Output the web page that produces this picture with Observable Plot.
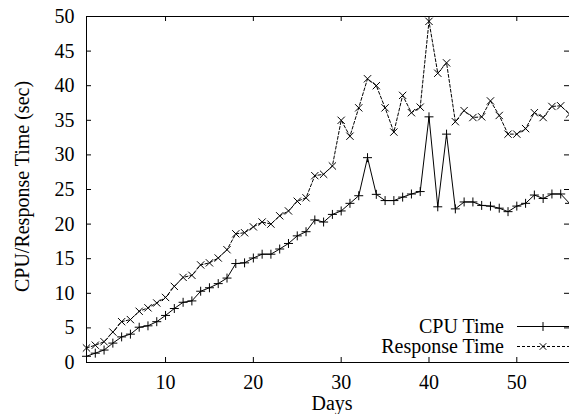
<!DOCTYPE html>
<html><head><meta charset="utf-8">
<script src="https://cdn.jsdelivr.net/npm/d3@7"></script>
<script src="https://cdn.jsdelivr.net/npm/@observablehq/plot@0.6"></script>
<style>
body{margin:0;background:#fff;}
#wrap{position:relative;width:569px;height:414px;font-family:"Liberation Serif","Times New Roman",serif;}
#legend{position:absolute;left:0;top:0;pointer-events:none;}
</style></head><body><div id="wrap"></div>
<script>
const days = [1,2,3,4,5,6,7,8,9,10,11,12,13,14,15,16,17,18,19,20,21,22,23,24,25,26,27,28,29,30,31,32,33,34,35,36,37,38,39,40,41,42,43,44,45,46,47,48,49,50,51,52,53,54,55,56];
const cpuTime = [0.9,1.35,1.8,2.8,3.7,4.1,5.1,5.3,5.9,6.8,
  7.8,8.7,8.9,10.3,10.8,11.4,12.2,14.3,14.4,15.1,
  15.65,15.65,16.4,17.2,18.3,18.9,20.6,20.3,21.4,21.9,
  23.0,24.1,29.6,24.3,23.4,23.4,23.9,24.35,24.7,35.5,
  22.5,33.0,22.2,23.2,23.2,22.7,22.6,22.3,21.8,22.6,
  23.0,24.2,23.7,24.35,24.35,23.0];
const responseTime = [2.1,2.5,3.0,4.4,5.9,6.2,7.4,7.9,8.6,9.4,
  11.0,12.3,12.6,14.1,14.4,15.1,16.3,18.6,18.75,19.6,
  20.3,20.0,21.2,21.9,23.3,23.8,27.0,27.2,28.4,35.0,
  32.7,36.8,41.0,40.0,36.8,33.3,38.6,36.1,36.9,49.3,
  41.8,43.3,34.8,36.4,35.4,35.5,37.8,35.7,33.0,33.0,
  33.8,36.1,35.4,37.0,37.1,35.9];
const xTicks = [10,20,30,40,50];
const yTicks = [0,5,10,15,20,25,30,35,40,45,50];
const seriesNames = ["CPU Time","Response Time"];
const xLabel = "Days";
const yLabel = "CPU/Response Time (sec)";

const W=569,H=414,mT=16,mB=52,mL=86,mR=0,tick=5,fs=20;
const frameH=H-mT-mB, frameW=W-mL-mR;
const font='"Liberation Serif","Times New Roman",serif';
const cpu = days.map((d,i)=>({day:d,value:cpuTime[i]}));
const resp = days.map((d,i)=>({day:d,value:responseTime[i]}));

const chart = Plot.plot({
  width:W,height:H,marginTop:mT,marginBottom:mB,marginLeft:mL,marginRight:mR,
  style:{fontFamily:font,fontSize:fs+"px",color:"#000",background:"#fff",overflow:"visible"},
  x:{domain:[1,56]}, y:{domain:[0,50]},
  marks:[
    Plot.frame({stroke:"#000",strokeWidth:1}),
    Plot.tickX(xTicks,{x:d=>d,insetTop:frameH-tick,stroke:"#000"}),
    Plot.tickX(xTicks,{x:d=>d,insetBottom:frameH-tick,stroke:"#000"}),
    Plot.tickY(yTicks,{y:d=>d,insetRight:frameW-tick,stroke:"#000"}),
    Plot.tickY(yTicks,{y:d=>d,insetLeft:frameW-tick,stroke:"#000"}),
    Plot.axisX({ticks:xTicks,tickSize:0,tickPadding:12,label:null,fontSize:fs}),
    Plot.axisY({ticks:yTicks,tickSize:0,tickPadding:12,label:null,fontSize:fs}),
    Plot.text([xLabel],{text:d=>d,frameAnchor:"bottom",lineAnchor:"middle",textAnchor:"middle",dx:4,dy:41,fontSize:fs}),
    Plot.text([yLabel],{text:d=>d,frameAnchor:"left",textAnchor:"middle",lineAnchor:"middle",dx:-64,dy:-3,rotate:-90,fontSize:fs}),
    Plot.line(resp,{x:"day",y:"value",stroke:"#000",strokeWidth:1,strokeDasharray:"3,2"}),
    Plot.dot(resp,{x:"day",y:"value",symbol:"times",r:3.4,stroke:"#000",strokeWidth:1}),
    Plot.line(cpu,{x:"day",y:"value",stroke:"#000",strokeWidth:1}),
    Plot.dot(cpu,{x:"day",y:"value",symbol:"plus",r:3.0,stroke:"#000",strokeWidth:1})
  ]
});
const wrap=document.getElementById("wrap");
wrap.appendChild(chart);

// legend overlay
const lg=d3.select(wrap).append("svg").attr("id","legend").attr("width",W).attr("height",H)
  .style("font-family",font).style("font-size",fs+"px");
const rows=[{name:seriesNames[0],dash:null,sym:d3.symbolPlus,size:28,y:326.5},
            {name:seriesNames[1],dash:"3,2",sym:d3.symbolTimes,size:30,y:346.5}];
rows.forEach(r=>{
  lg.append("text").attr("x",504).attr("y",r.y).attr("dy","0.32em").attr("text-anchor","end").attr("fill","#000").text(r.name);
  lg.append("line").attr("x1",517).attr("x2",569).attr("y1",r.y).attr("y2",r.y).attr("stroke","#000").attr("stroke-width",1).attr("stroke-dasharray",r.dash);
  lg.append("path").attr("d",d3.symbol(r.sym,r.size)()).attr("transform",`translate(543,${r.y})`).attr("fill","none").attr("stroke","#000");
});
</script></body></html>
